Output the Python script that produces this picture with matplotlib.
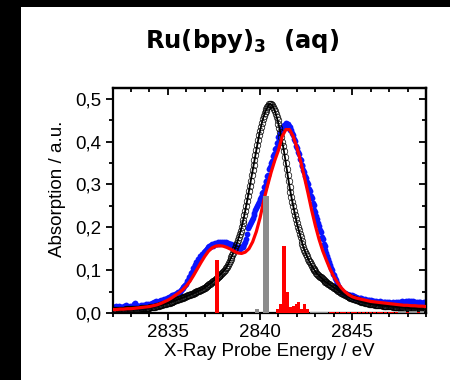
import numpy as np
import matplotlib
matplotlib.use("Agg")
import matplotlib.pyplot as plt
from matplotlib.patches import Rectangle
from matplotlib.ticker import MultipleLocator, FuncFormatter

# ---------------- data ----------------
# energy grid of theory and experiment: 2832.00 ... 2849.00 eV, 0.05 eV steps
grid_e = np.round(2832.0 + 0.05 * np.arange(341), 2)

# theory (black line with open circles), one row per eV (20 values)
theory_v = [
    .0070, .0070, .0071, .0071, .0072, .0073, .0074, .0074, .0075, .0076, .0077, .0078, .0079, .0080, .0081, .0082, .0083, .0084, .0085, .0086,  # 2832
    .0088, .0089, .0090, .0092, .0093, .0095, .0096, .0098, .0100, .0102, .0104, .0106, .0108, .0110, .0112, .0114, .0117, .0119, .0122, .0124,  # 2833
    .0127, .0131, .0135, .0139, .0143, .0147, .0150, .0155, .0160, .0165, .0170, .0176, .0182, .0188, .0194, .0200, .0206, .0212, .0218, .0224,  # 2834
    .0230, .0237, .0245, .0252, .0260, .0268, .0276, .0284, .0292, .0300, .0308, .0316, .0324, .0332, .0340, .0348, .0357, .0366, .0374, .0383,  # 2835
    .0392, .0400, .0410, .0419, .0428, .0437, .0446, .0455, .0465, .0474, .0484, .0494, .0504, .0514, .0524, .0535, .0546, .0557, .0568, .0579,  # 2836
    .0590, .0606, .0622, .0638, .0654, .0671, .0688, .0705, .0722, .0740, .0758, .0776, .0795, .0814, .0834, .0854, .0875, .0896, .0918, .0941,  # 2837
    .0964, .0988, .1013, .1040, .108, .112, .116, .121, .126, .131, .136, .141, .146, .152, .158, .164, .170, .177, .184, .192,  # 2838
    .200, .209, .218, .228, .239, .250, .261, .273, .285, .297, .309, .321, .333, .345, .357, .369, .381, .393, .404, .415,  # 2839
    .425, .435, .444, .452, .459, .466, .471, .476, .480, .484, .487, .488, .487, .485, .481, .477, .472, .465, .458, .450,  # 2840
    .441, .432, .422, .411, .400, .389, .377, .364, .350, .336, .321, .307, .294, .282, .271, .260, .250, .239, .229, .219,  # 2841
    .209, .201, .193, .185, .177, .169, .161, .154, .148, .142, .137, .132, .127, .122, .118, .114, .110, .106, .103, .100,  # 2842
    .097, .094, .091, .089, .087, .085, .083, .081, .079, .077, .075, .073, .0715, .0700, .0685, .0670, .0655, .0640, .0625, .0610,  # 2843
    .0595, .0580, .0565, .0550, .0535, .0520, .0505, .0490, .0475, .0460, .0445, .0432, .0420, .0409, .0398, .0388, .0378, .0368, .0358, .0349,  # 2844
    .0340, .0332, .0324, .0316, .0308, .0300, .0292, .0285, .0278, .0271, .0264, .0258, .0252, .0246, .0240, .0235, .0230, .0225, .0220, .0216,  # 2845
    .0212, .0208, .0205, .0202, .0199, .0196, .0193, .0190, .0187, .0184, .0181, .0178, .0176, .0173, .0171, .0168, .0166, .0164, .0162, .0160,  # 2846
    .0158, .0156, .0154, .0152, .0150, .0148, .0146, .0144, .0142, .0140, .0138, .0136, .0134, .0132, .0130, .0128, .0126, .0124, .0122, .0120,  # 2847
    .0118, .0116, .0114, .0112, .0110, .0108, .0106, .0104, .0102, .0100, .0098, .0096, .0094, .0092, .0090, .0088, .0087, .0086, .0085, .0084,  # 2848
    .0083,  # 2849
]

# experiment (blue dots), one row per eV (20 values)
exp_v = [
    .012, .015, .013, .011, .016, .014, .012, .017, .013, .015, .011, .014, .016, .012, .015, .018, .013, .014, .012, .016,  # 2832
    .014, .017, .015, .021, .024, .019, .016, .014, .017, .015, .013, .018, .016, .019, .015, .017, .020, .016, .018, .021,  # 2833
    .019, .022, .018, .023, .021, .025, .022, .027, .024, .026, .028, .025, .029, .031, .027, .030, .033, .029, .032, .035,  # 2834
    .034, .037, .033, .039, .041, .038, .042, .040, .044, .043, .046, .048, .050, .049, .053, .055, .058, .060, .062, .066,  # 2835
    .068, .074, .077, .085, .087, .094, .096, .104, .105, .112, .113, .118, .120, .126, .126, .132, .133, .137, .138, .143,  # 2836
    .145, .147, .150, .149, .153, .156, .154, .158, .160, .157, .161, .163, .160, .162, .165, .161, .164, .166, .163, .165,  # 2837
    .163, .166, .162, .165, .161, .163, .160, .162, .158, .160, .156, .158, .154, .157, .152, .155, .151, .153, .150, .154,  # 2838
    .155, .153, .157, .160, .165, .172, .185, .198, .204, .207, .212, .218, .222, .228, .233, .240, .245, .250, .255, .260,  # 2839
    .265, .270, .280, .283, .293, .296, .305, .309, .320, .323, .335, .340, .351, .355, .367, .371, .382, .386, .396, .400,  # 2840
    .410, .413, .421, .424, .432, .433, .439, .438, .443, .440, .442, .436, .435, .428, .427, .419, .416, .406, .401, .390,  # 2841
    .385, .375, .371, .360, .356, .346, .342, .333, .329, .320, .316, .305, .300, .289, .284, .273, .268, .257, .252, .241,  # 2842
    .236, .226, .220, .210, .204, .194, .188, .178, .172, .162, .157, .147, .141, .132, .127, .118, .113, .104, .100, .092,  # 2843
    .089, .081, .078, .071, .068, .062, .060, .055, .054, .050, .050, .047, .047, .044, .045, .042, .043, .041, .042, .039,  # 2844
    .041, .038, .039, .036, .037, .034, .036, .033, .035, .032, .034, .031, .033, .030, .032, .031, .029, .031, .030, .028,  # 2845
    .030, .027, .029, .026, .028, .025, .027, .025, .026, .024, .027, .024, .026, .023, .025, .024, .026, .023, .025, .023,  # 2846
    .025, .023, .024, .022, .025, .023, .024, .022, .025, .024, .026, .023, .025, .024, .027, .025, .026, .024, .027, .025,  # 2847
    .027, .025, .028, .026, .029, .025, .027, .024, .026, .023, .025, .024, .026, .023, .025, .022, .024, .023, .025, .022,  # 2848
    .023,  # 2849
]

# fit (red line), 0.2 eV grid
fit_e = np.round(2832.0 + 0.2 * np.arange(86), 2)
fit_v = [0.008, 0.008, 0.009, 0.009, 0.010, 0.010, 0.011, 0.012, 0.013, 0.014,
         0.015, 0.017, 0.019, 0.022, 0.026, 0.030, 0.035, 0.041, 0.047, 0.054,
         0.063, 0.074, 0.088, 0.103, 0.118, 0.132, 0.144, 0.152, 0.156, 0.157,
         0.156, 0.153, 0.149, 0.144, 0.140, 0.139, 0.142, 0.150, 0.166, 0.190,
         0.222, 0.262, 0.296, 0.328, 0.356, 0.380, 0.412, 0.428, 0.428, 0.412,
         0.386, 0.354, 0.318, 0.280, 0.240, 0.204, 0.172, 0.145, 0.123, 0.102,
         0.085, 0.071, 0.059, 0.050, 0.043, 0.038, 0.035, 0.033, 0.031, 0.029,
         0.027, 0.026, 0.025, 0.024, 0.023, 0.022, 0.021, 0.020, 0.019, 0.018,
         0.018, 0.017, 0.017, 0.016, 0.016, 0.015]

# red stick spectrum
red_e = [2837.66, 2840.95, 2841.12, 2841.30, 2841.47, 2841.63, 2841.79, 2841.95,
         2842.11, 2842.27, 2842.43, 2842.59,
         2843.8, 2844.0, 2844.2, 2844.4, 2844.6, 2844.8, 2845.0, 2845.2, 2845.4,
         2845.6, 2845.8, 2846.0, 2846.2, 2846.4, 2846.6, 2846.8, 2847.0, 2847.2,
         2847.4, 2848.0, 2848.6]
red_h = [0.123, 0.010, 0.022, 0.156, 0.050, 0.014, 0.016, 0.022, 0.026, 0.010,
         0.020, 0.010,
         0.003, 0.003, 0.003, 0.003, 0.003, 0.003, 0.003, 0.003, 0.003,
         0.003, 0.003, 0.003, 0.003, 0.003, 0.003, 0.003, 0.003, 0.003,
         0.003, 0.003, 0.003]

# gray stick spectrum
gray_e = [2839.84, 2840.31, 2842.8, 2843.0, 2843.2, 2843.4, 2843.6,
          2847.6, 2847.8, 2848.2, 2848.4, 2848.8]
gray_h = [0.009, 0.273, 0.003, 0.003, 0.003, 0.003, 0.003,
          0.004, 0.004, 0.004, 0.004, 0.004]

# ---------------- figure ----------------
W, H = 450, 380
fig = plt.figure(figsize=(W / 100, H / 100), dpi=100)
fig.patch.set_facecolor("white")
fig.patches.append(Rectangle((0, 0), 21 / W, 1, transform=fig.transFigure,
                             facecolor="black", edgecolor="none", zorder=0))
fig.patches.append(Rectangle((0, 1 - 7 / H), 1, 7 / H, transform=fig.transFigure,
                             facecolor="black", edgecolor="none", zorder=0))

L, R, B, T = 112.5, 426, 313, 88
ax = fig.add_axes([L / W, 1 - B / H, (R - L) / W, (B - T) / H])

font = "Liberation Sans"
fs = 13.5

ax.plot(grid_e, exp_v, "o", color="#0a14ff", ms=4.2, mew=0, zorder=2)
ax.plot(grid_e, theory_v, "-", color="black", lw=1.3, zorder=3)
ax.plot(grid_e, theory_v, "o", mfc="none", mec="black", ms=4.7, mew=0.5, zorder=3)
ax.plot(fit_e, fit_v, "-", color="#ff0000", lw=2.3, zorder=4)

gray_w = [0.3 if h > 0.1 else 0.2 for h in gray_h]
ax.bar(gray_e, gray_h, width=gray_w, color="#8c8c8c", zorder=5)
red_w = [0.2 if h > 0.1 else 0.16 for h in red_h]
ax.bar(red_e, red_h, width=red_w, color="#ff0000", zorder=6)

ax.set_xlim(2832, 2849)
ax.set_ylim(0, 0.525)

ax.xaxis.set_major_locator(MultipleLocator(5))
ax.xaxis.set_minor_locator(MultipleLocator(1))
ax.yaxis.set_major_locator(MultipleLocator(0.1))
ax.yaxis.set_minor_locator(MultipleLocator(0.05))
ax.yaxis.set_major_formatter(FuncFormatter(lambda v, p: f"{v:.1f}".replace(".", ",")))

for s in ax.spines.values():
    s.set_linewidth(1.6)

ax.tick_params(which="both", direction="out", width=1.3, top=False, right=False,
               labelsize=fs, pad=3)
ax.tick_params(which="major", length=5)
ax.tick_params(which="minor", length=3)
for lab in ax.get_xticklabels() + ax.get_yticklabels():
    lab.set_fontfamily(font)

secx = ax.secondary_xaxis("top")
secx.xaxis.set_major_locator(MultipleLocator(5))
secx.xaxis.set_minor_locator(MultipleLocator(1))
secx.tick_params(which="both", direction="in", labeltop=False, width=1.3)
secx.tick_params(which="major", length=5)
secx.tick_params(which="minor", length=3)
secx.spines["top"].set_linewidth(1.6)

secy = ax.secondary_yaxis("right")
secy.yaxis.set_major_locator(MultipleLocator(0.1))
secy.yaxis.set_minor_locator(MultipleLocator(0.05))
secy.tick_params(which="both", direction="in", labelright=False, width=1.3)
secy.tick_params(which="major", length=5)
secy.tick_params(which="minor", length=3)
secy.spines["right"].set_linewidth(1.6)

fig.text(269 / W, 1 - 352 / H, "X-Ray Probe Energy / eV", ha="center", va="center",
         fontsize=fs, fontfamily=font)
fig.text(57 / W, 1 - 189 / H, "Absorption / a.u.", ha="center", va="center",
         rotation=90, fontsize=fs, fontfamily=font)

fig.text(242 / W, 1 - 41 / H, r"Ru(bpy)$_\mathbf{3}$  (aq)", ha="center", va="center",
         fontsize=17.5, fontweight="bold", fontfamily="DejaVu Sans")

fig.savefig("out.png", dpi=100, facecolor=fig.get_facecolor())
